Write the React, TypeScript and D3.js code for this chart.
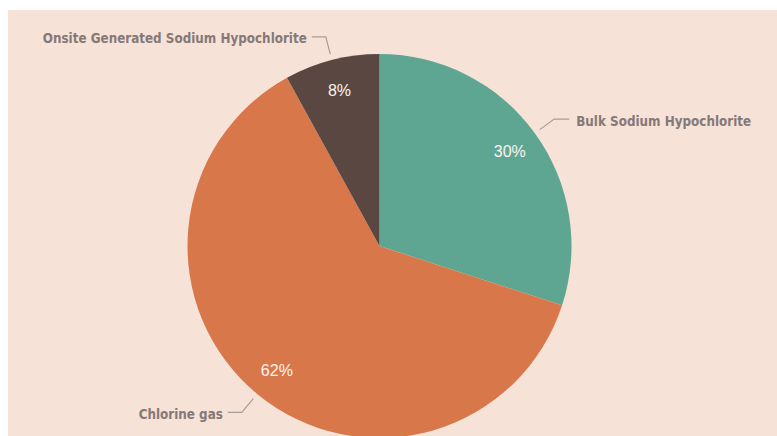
import React from "react";
import * as d3 from "d3";

const categories = ["Bulk Sodium Hypochlorite", "Chlorine gas", "Onsite Generated Sodium Hypochlorite"];
const values = [30, 62, 8];
const colors = ["#5FA692", "#D8784A", "#5B4742"];

const W = 777;
const H = 436;
const cx = 379.5;
const cy = 246;
const R = 192;

export default function App() {
  const pie = d3.pie<number>().sort(null).value((d) => d);
  const arcs = pie(values);
  const arc = d3.arc<d3.PieArcDatum<number>>().innerRadius(0).outerRadius(R);
  const labelArc = d3.arc<d3.PieArcDatum<number>>().innerRadius(161).outerRadius(161);
  const total = d3.sum(values);

  return (
    <svg width={W} height={H} style={{ position: "fixed", left: 0, top: 0, display: "block" }}>
      <rect x={0} y={0} width={W} height={H} fill="#ffffff" />
      <rect x={8} y={10} width={W - 8} height={H - 10} fill="#F6E2D7" />
      <g transform={`translate(${cx},${cy})`}>
        {arcs.map((a, i) => (
          <path key={i} d={arc(a) || ""} fill={colors[i]} />
        ))}
        {arcs.map((a, i) => {
          const [x, y] = labelArc.centroid(a);
          return (
            <text key={"p" + i} x={x} y={y} dy="0.35em" textAnchor="middle" fill="#FBF3EE"
              style={{ fontFamily: "'Liberation Sans', Arial, sans-serif", fontSize: 16 }}>
              {Math.round((a.data / total) * 100)}%
            </text>
          );
        })}
        {arcs.map((a, i) => {
          const mid = (a.startAngle + a.endAngle) / 2;
          const sx = Math.sin(mid), sy = -Math.cos(mid);
          const p1 = [198 * sx, 198 * sy];
          const p2 = [216 * sx, 216 * sy];
          const right = sx > 0;
          const p3 = [p2[0] + (right ? 15 : -14), p2[1]];
          const tx = p3[0] + (right ? 7 : -5);
          return (
            <g key={"l" + i}>
              <polyline points={[p1, p2, p3].map((p) => p.join(",")).join(" ")} fill="none" stroke="#A89C99" strokeWidth={1.2} />
              <text x={tx} y={p3[1] + 2} dy="0.35em" textAnchor={right ? "start" : "end"} fill="#857978"
                style={{ fontFamily: "'DejaVu Sans Condensed', 'DejaVu Sans', sans-serif", fontSize: 13.3, fontWeight: 700 }}>
                {categories[i]}
              </text>
            </g>
          );
        })}
      </g>
    </svg>
  );
}
